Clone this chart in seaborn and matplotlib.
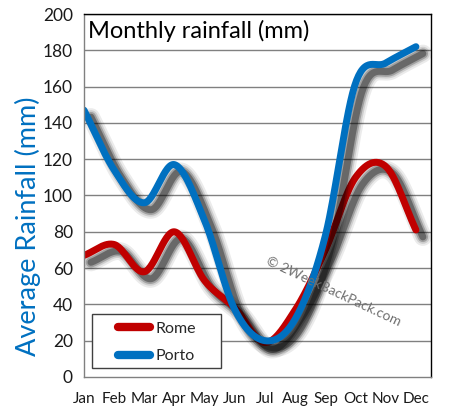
import numpy as np
import pandas as pd
import matplotlib
matplotlib.use("Agg")
import matplotlib.pyplot as plt
import matplotlib.patheffects as pe
from matplotlib.lines import Line2D
from matplotlib.patches import Rectangle
import seaborn as sns


# Data

months = ["Jan", "Feb", "Mar", "Apr", "May", "Jun",
          "Jul", "Aug", "Sep", "Oct", "Nov", "Dec"]
rome = [67, 73, 58, 80, 53, 38, 19, 37, 70, 110, 116, 81]
porto = [147, 114, 96, 117, 86, 37, 20, 32, 78, 162, 173, 182]
cities = ["Rome", "Porto"]
colors = {"Rome": "#C00000", "Porto": "#0070C0"}
y_ticks = [0, 20, 40, 60, 80, 100, 120, 140, 160, 180, 200]


def smooth(values, steps=30):
    # Catmull-Rom style smoothing, like a spreadsheet "smoothed line"
    v = np.asarray(values, dtype=float)
    n = len(v)
    tang = np.empty(n)
    tang[1:-1] = (v[2:] - v[:-2]) / 2
    tang[0] = v[1] - v[0]
    tang[-1] = v[-1] - v[-2]
    xs, ys = [], []
    for i in range(n - 1):
        t = np.linspace(0, 1, steps, endpoint=(i == n - 2))
        h00 = 2 * t**3 - 3 * t**2 + 1
        h10 = t**3 - 2 * t**2 + t
        h01 = -2 * t**3 + 3 * t**2
        h11 = t**3 - t**2
        xs.append(i + t)
        ys.append(h00 * v[i] + h10 * tang[i] + h01 * v[i + 1] + h11 * tang[i + 1])
    return np.concatenate(xs), np.concatenate(ys)


frames = []
for name, vals in zip(cities, [rome, porto]):
    sx, sy = smooth(vals)
    frames.append(pd.DataFrame({"x": sx, "y": sy, "city": name}))
df = pd.concat(frames, ignore_index=True)


# Plot

sns.set_style("white")
plt.rcParams["font.family"] = ["Lato", "DejaVu Sans"]

fig = plt.figure(figsize=(4.51, 4.18), dpi=100)
ax = fig.add_axes([0.1863, 0.0981, 0.7694, 0.8684])

for y in y_ticks[1:]:
    ax.axhline(y, color="#808080", lw=1, zorder=0)

sns.lineplot(data=df, x="x", y="y", hue="city", palette=colors,
             sort=False, estimator=None, linewidth=5, legend=False, ax=ax)

shadow = [pe.SimpleLineShadow(offset=(5, -5), shadow_color="black",
                              alpha=a, linewidth=w)
          for a, w in [(0.08, 13), (0.12, 10), (0.22, 7.5), (0.35, 5)]]
for line in ax.get_lines():
    if len(line.get_xdata()) > 2:
        line.set_solid_capstyle("round")
        line.set_path_effects(shadow + [pe.Normal()])

ax.set_xlim(0, 11.5)
ax.set_ylim(0, 200)
ax.set_xticks(range(len(months)))
ax.set_xticklabels(months, fontsize=11)
ax.set_yticks(y_ticks)
ax.set_yticklabels([str(t) for t in y_ticks], fontsize=12.5)
ax.tick_params(axis="both", direction="out", length=5, color="#808080",
               labelcolor="#1a1a1a", pad=3)
ax.tick_params(axis="x", pad=6)
ax.set_xlabel("")
ax.set_ylabel("Average Rainfall (mm)", fontsize=19.5, color="#0070C0")
ax.yaxis.set_label_coords(-0.125, 0.416)

for side in ["left", "bottom"]:
    ax.spines[side].set_color("#808080")
for side in ["top", "right"]:
    ax.spines[side].set_color("black")
for s in ax.spines.values():
    s.set_linewidth(1)

ax.text(0.012, 0.985, "Monthly rainfall (mm)", transform=ax.transAxes,
        fontsize=17, va="top", ha="left", color="black")

ax.text(0.72, 0.235, "\u00a9 2WeekBackPack.com", transform=ax.transAxes,
        fontsize=10, color="#707070", rotation=-25, ha="center", va="center")

# legend: wide frame with the entries set in from the left
ax.add_patch(Rectangle((0.023, 0.025), 0.372, 0.149, transform=ax.transAxes,
                       facecolor="white", edgecolor="#404040", lw=1, zorder=5))
handles = [Line2D([0], [0], color=colors[c], lw=6, solid_capstyle="round")
           for c in cities]
leg = ax.legend(handles, cities, loc="upper left", bbox_to_anchor=(0.098, 0.153),
                fontsize=11.5, frameon=False, handlelength=2.0,
                borderpad=0, labelspacing=0.85, handletextpad=0.35,
                borderaxespad=0)
leg.set_zorder(6)

fig.savefig("out.png", dpi=100)
plt.close(fig)
